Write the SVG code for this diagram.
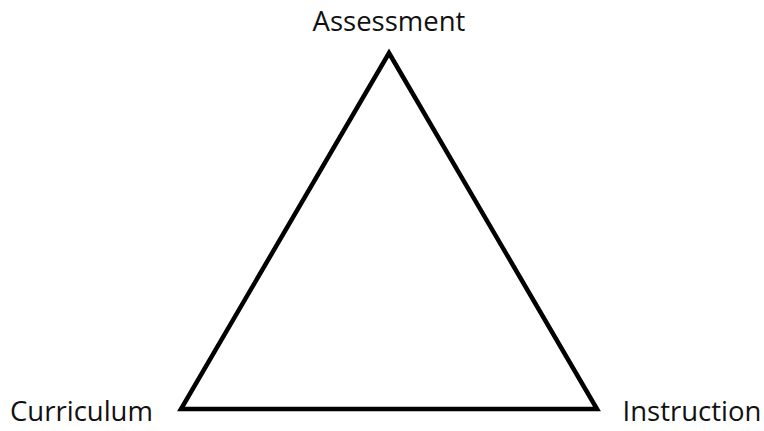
<svg xmlns="http://www.w3.org/2000/svg" width="764" height="431" viewBox="0 0 764 431">
<style>
.lbl{font-family:"Open Sans","Noto Sans",sans-serif;font-size:27.5px;fill:#111}
.edge{fill:none;stroke:#000;stroke-width:4.5;stroke-linejoin:miter}
</style>
<rect width="764" height="431" fill="#fff"/>
<g id="connectors">
<polygon class="edge" points="389,53 597,409 181,409"/>
</g>
<g id="node-assessment"><text class="lbl" x="389" y="31" text-anchor="middle">Assessment</text></g>
<g id="node-curriculum"><text class="lbl" x="81.5" y="421" text-anchor="middle">Curriculum</text></g>
<g id="node-instruction"><text class="lbl" x="692" y="421" text-anchor="middle">Instruction</text></g>
</svg>
